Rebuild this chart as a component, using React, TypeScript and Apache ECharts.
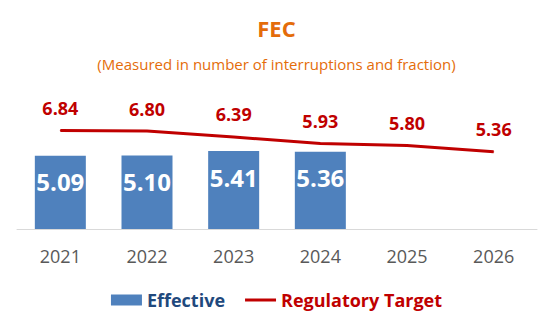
import React, { useEffect, useRef } from "react";
import * as echarts from "echarts";

const years = ["2021", "2022", "2023", "2024", "2025", "2026"];
const effective: (number | null)[] = [5.09, 5.1, 5.41, 5.36, null, null];
const regulatoryTarget = [6.84, 6.8, 6.39, 5.93, 5.8, 5.36];

const FONT = "Open Sans";

export default function App() {
  const ref = useRef<HTMLDivElement>(null);
  useEffect(() => {
    if (!ref.current) return;
    const chart = echarts.init(ref.current, undefined, { renderer: "svg" });
    chart.setOption({
      animation: false,
      backgroundColor: "#ffffff",
      title: [
        {
          text: "FEC",
          left: "center",
          top: 12,
          textStyle: { color: "#E46C0A", fontFamily: FONT, fontWeight: "bold", fontSize: 22 },
        },
        {
          text: "(Measured in number of interruptions and fraction)",
          left: "center",
          top: 51,
          textStyle: { color: "#E46C0A", fontFamily: FONT, fontWeight: "normal", fontSize: 15 },
        },
      ],
      legend: {
        left: "center",
        top: 286,
        itemWidth: 31,
        itemHeight: 11,
        itemGap: 20,
        textStyle: { fontFamily: FONT, fontSize: 18, fontWeight: "bold" },
        data: [
          { name: "Effective", icon: "rect", textStyle: { color: "#1F497D" } },
          {
            name: "Regulatory Target",
            icon: "path://M0,0 M0,4 L31,4 L31,7 L0,7 Z M31,11",
            itemStyle: { color: "#C00000" },
            textStyle: { color: "#C00000" },
          },
        ],
      },
      grid: { left: 17, right: 16, top: 85, bottom: 95, containLabel: false },
      xAxis: {
        type: "category",
        data: years,
        axisLine: { show: true, lineStyle: { color: "#D9D9D9", width: 1 } },
        axisTick: { show: false },
        axisLabel: { color: "#595959", fontFamily: FONT, fontSize: 18, margin: 18 },
      },
      yAxis: {
        type: "value",
        min: 0,
        max: 10,
        show: false,
        splitLine: { show: false },
      },
      series: [
        {
          name: "Effective",
          type: "bar",
          data: effective,
          barWidth: 51,
          itemStyle: { color: "#4F81BD" },
          label: {
            show: true,
            position: "insideTop",
            distance: 14,
            color: "#ffffff",
            fontFamily: FONT,
            fontWeight: "bold",
            fontSize: 24,
            formatter: (p: any) => (p.value == null ? "" : Number(p.value).toFixed(2)),
          },
        },
        {
          name: "Regulatory Target",
          type: "line",
          data: regulatoryTarget,
          symbol: "circle",
          symbolSize: 1,
          showSymbol: true,
          lineStyle: { color: "#C00000", width: 3 },
          itemStyle: { color: "#C00000" },
          label: {
            show: true,
            position: "top",
            distance: 13,
            color: "#C00000",
            fontFamily: FONT,
            fontWeight: "bold",
            fontSize: 18,
            formatter: (p: any) => Number(p.value).toFixed(2),
          },
        },
      ],
    });
    return () => chart.dispose();
  }, []);
  return (
    <div
      ref={ref}
      style={{ position: "fixed", left: 0, top: 0, width: 553, height: 324, background: "#fff" }}
    />
  );
}
